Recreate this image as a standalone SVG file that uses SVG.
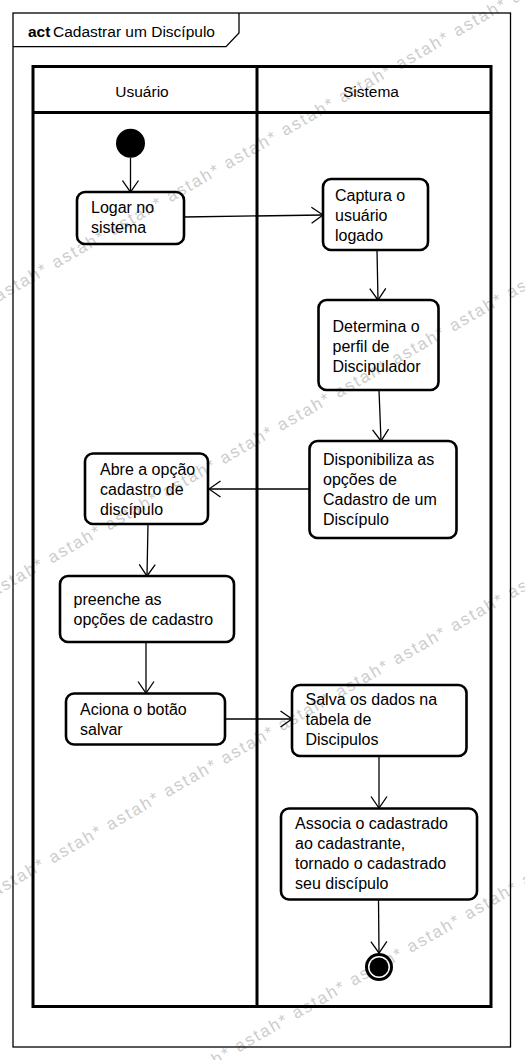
<svg xmlns="http://www.w3.org/2000/svg" width="525" height="1060" viewBox="0 0 525 1060">
<style>
.wm{font-family:"Liberation Sans",Arial,sans-serif;font-size:17px;letter-spacing:1.9px;fill:#cdcdcd}
.t{font-family:"Liberation Sans",Arial,sans-serif;font-size:16px;fill:#000}
.h{font-family:"Liberation Sans",Arial,sans-serif;font-size:15.5px;fill:#000}
.box{fill:none;stroke:#000;stroke-width:2.6}
.lane{fill:none;stroke:#000;stroke-width:3}
.edge{fill:none;stroke:#000;stroke-width:1.3;marker-end:url(#arr)}
</style>
<defs>
<marker id="arr" markerUnits="userSpaceOnUse" viewBox="0 0 14 18" refX="12.5" refY="9" markerWidth="14" markerHeight="18" orient="auto">
<path d="M1,1 L12.5,9 L1,17" fill="none" stroke="#000" stroke-width="1.3"/>
</marker>
</defs>
<rect x="0" y="0" width="525" height="1060" fill="#fff"/>
<g id="watermark">
<text class="wm" transform="translate(-59,335) rotate(-30)">astah* astah* astah* astah* astah* astah* astah* astah* astah* astah* astah* astah*</text>
<text class="wm" transform="translate(-63,630) rotate(-30)">astah* astah* astah* astah* astah* astah* astah* astah* astah* astah* astah* astah*</text>
<text class="wm" transform="translate(-62,930) rotate(-30)">astah* astah* astah* astah* astah* astah* astah* astah* astah* astah* astah* astah*</text>
<text class="wm" transform="translate(-48,1218) rotate(-30)">astah* astah* astah* astah* astah* astah* astah* astah* astah* astah* astah* astah*</text>
</g>
<g id="frame">
<rect x="13" y="13" width="497.5" height="1034" fill="none" stroke="#000" stroke-width="1.3"/>
<path d="M13,46.7 L226,46.7 L239,33 L239,13" fill="none" stroke="#000" stroke-width="1.3"/>
<text x="28" y="37" class="h"><tspan font-weight="bold">act</tspan><tspan x="53">Cadastrar um Discípulo</tspan></text>
</g>
<g id="lanes">
<rect x="33" y="66.5" width="458" height="940" class="lane"/>
<line x1="33" y1="112.5" x2="491" y2="112.5" class="lane"/>
<line x1="257" y1="66.5" x2="257" y2="1006.5" class="lane"/>
<text x="142" y="97" class="h" text-anchor="middle">Usuário</text>
<text x="371" y="97" class="h" text-anchor="middle">Sistema</text>
</g>
<g id="connectors">
<line x1="130.5" y1="158" x2="130.5" y2="192" class="edge"/>
<line x1="184" y1="217" x2="323" y2="215" class="edge"/>
<line x1="377" y1="250" x2="378" y2="300" class="edge"/>
<line x1="379" y1="390" x2="381" y2="441" class="edge"/>
<line x1="309" y1="489" x2="209" y2="489" class="edge"/>
<line x1="148" y1="524" x2="147" y2="576" class="edge"/>
<line x1="146" y1="642" x2="146" y2="693" class="edge"/>
<line x1="225" y1="719" x2="292" y2="719" class="edge"/>
<line x1="379" y1="756" x2="379" y2="808" class="edge"/>
<line x1="378.5" y1="899" x2="379" y2="953" class="edge"/>
</g>
<g id="initial">
<circle cx="130.5" cy="143.3" r="14.5" fill="#000"/>
</g>
<g id="logar">
<rect x="77" y="192" width="107" height="52" rx="8" class="box"/>
<text class="t" x="91" y="213">Logar no</text>
<text class="t" x="91" y="233">sistema</text>
</g>
<g id="captura">
<rect x="323" y="179" width="105" height="71" rx="8" class="box"/>
<text class="t" x="335" y="201">Captura o</text>
<text class="t" x="335" y="221">usuário</text>
<text class="t" x="335" y="241">logado</text>
</g>
<g id="determina">
<rect x="318.5" y="300" width="120" height="90" rx="8" class="box"/>
<text class="t" x="332.5" y="332">Determina o</text>
<text class="t" x="332.5" y="352">perfil de</text>
<text class="t" x="332.5" y="372">Discipulador</text>
</g>
<g id="disponibiliza">
<rect x="309.5" y="441" width="147" height="97" rx="8" class="box"/>
<text class="t" x="323" y="465">Disponibiliza as</text>
<text class="t" x="323" y="485">opções de</text>
<text class="t" x="323" y="505">Cadastro de um</text>
<text class="t" x="323" y="525">Discípulo</text>
</g>
<g id="abre">
<rect x="85" y="453.5" width="123" height="70.5" rx="8" class="box"/>
<text class="t" x="100" y="475">Abre a opção</text>
<text class="t" x="100" y="495">cadastro de</text>
<text class="t" x="100" y="515">discípulo</text>
</g>
<g id="preenche">
<rect x="60" y="576" width="174" height="66" rx="8" class="box"/>
<text class="t" x="73.5" y="605">preenche as</text>
<text class="t" x="73.5" y="625">opções de cadastro</text>
</g>
<g id="aciona">
<rect x="66" y="693.5" width="159" height="51" rx="8" class="box"/>
<text class="t" x="80" y="715">Aciona o botão</text>
<text class="t" x="80" y="735">salvar</text>
</g>
<g id="salva">
<rect x="292" y="685" width="174.5" height="71" rx="8" class="box"/>
<text class="t" x="305.5" y="705">Salva os dados na</text>
<text class="t" x="305.5" y="725">tabela de</text>
<text class="t" x="305.5" y="745">Discipulos</text>
</g>
<g id="associa">
<rect x="281" y="808.5" width="196" height="91" rx="8" class="box"/>
<text class="t" x="295" y="829">Associa o cadastrado</text>
<text class="t" x="295" y="849">ao cadastrante,</text>
<text class="t" x="295" y="869">tornado o cadastrado</text>
<text class="t" x="295" y="889">seu discípulo</text>
</g>
<g id="final">
<circle cx="379" cy="967" r="14" fill="#000"/>
<circle cx="379" cy="967" r="11" fill="#fff"/>
<circle cx="379" cy="967" r="9.5" fill="#000"/>
</g>
</svg>
